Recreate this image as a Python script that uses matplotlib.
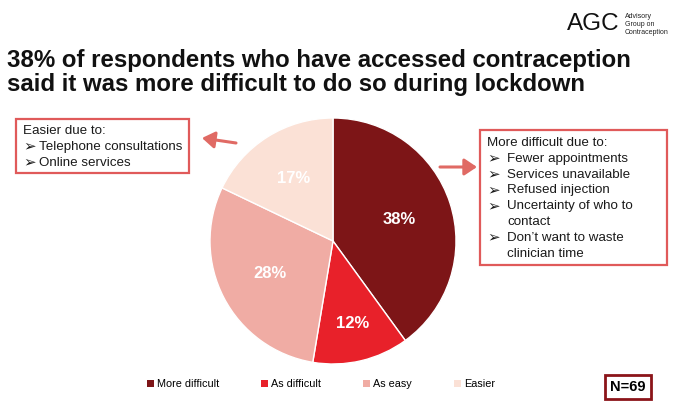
import matplotlib
matplotlib.use("Agg")
import matplotlib.pyplot as plt
from matplotlib.patches import Rectangle, FancyArrowPatch

plt.rcParams['font.family'] = ['Liberation Sans', 'DejaVu Sans']

# data
categories = ["More difficult", "As difficult", "As easy", "Easier"]
shares = [38, 12, 28, 17]
colors = ["#7d1517", "#e8212a", "#f0aca4", "#fbe1d6"]

easier_reasons = ["Telephone consultations", "Online services"]
harder_reasons = ["Fewer appointments", "Services unavailable", "Refused injection",
                  "Uncertainty of who to\ncontact", "Don\u2019t want to waste\nclinician time"]
n_resp = 69

W, H = 680, 401
fig = plt.figure(figsize=(W / 100, H / 100), dpi=100)
fig.patch.set_facecolor("white")


def fx(x):
    return x / W


def fy(y):
    return 1 - y / H


# title + logo
fig.text(fx(7), fy(61), "38% of respondents who have accessed contraception",
         fontsize=17.3, fontweight="bold", color="#111111", va="center", ha="left")
fig.text(fx(7), fy(85), "said it was more difficult to do so during lockdown",
         fontsize=17.3, fontweight="bold", color="#111111", va="center", ha="left")
fig.text(fx(567), fy(24), "AGC", fontsize=17.5, color="#111111", va="center", ha="left")
fig.text(fx(625), fy(24.5), "Advisory\nGroup on\nContraception", fontsize=5,
         color="#222222", va="center", ha="left", linespacing=1.25)

# pie
cx, cy, r = 333, 241, 123
ax = fig.add_axes([fx(cx - r), fy(cy + r), 2 * r / W, 2 * r / H])
wedges, texts, autotexts = ax.pie(
    shares, colors=colors, startangle=90, counterclock=False,
    autopct=lambda p: "", pctdistance=0.6,
    wedgeprops=dict(edgecolor="white", linewidth=1))
for t, v, d in zip(autotexts, shares, [0.57, 0.69, 0.58, 0.6]):
    x, y = t.get_position()
    k = d / 0.6
    t.set_position((x * k, y * k))
    t.set_text(f"{v}%")
    t.set_color("white")
    t.set_fontsize(12)
    t.set_fontweight("bold")
ax.set_xlim(-1, 1)
ax.set_ylim(-1, 1)
ax.set_aspect("equal")
ax.axis("off")


def bullet_block(x_bullet, x_text, y0, header, items, step=15.8, size=9.6):
    fig.text(fx(x_bullet), fy(y0), header, fontsize=size, va="center", ha="left",
             color="#1a1a1a")
    yy = y0 + step
    for s in items:
        fig.text(fx(x_bullet), fy(yy), "\u27a2", fontsize=size + 1.2, va="center",
                 ha="left", color="#1a1a1a")
        for line in s.split("\n"):
            fig.text(fx(x_text), fy(yy), line, fontsize=size, va="center", ha="left",
                     color="#1a1a1a")
            yy += step


# left callout
fig.patches.append(Rectangle((fx(16), fy(173)), fx(189) - fx(16), fy(119) - fy(173),
                             transform=fig.transFigure, fill=False,
                             edgecolor="#e05a5a", linewidth=1.6))
bullet_block(23, 39, 131, "Easier due to:", easier_reasons)

# right callout
fig.patches.append(Rectangle((fx(480), fy(265)), fx(667) - fx(480), fy(130) - fy(265),
                             transform=fig.transFigure, fill=False,
                             edgecolor="#e05a5a", linewidth=1.6))
bullet_block(487, 507, 143, "More difficult due to:", harder_reasons)

# arrows
for (x0, y0, x1, y1) in [(236, 143, 202, 138), (440, 167, 477, 167)]:
    fig.patches.append(FancyArrowPatch((fx(x0), fy(y0)), (fx(x1), fy(y1)),
                                       transform=fig.transFigure,
                                       arrowstyle="-|>,head_length=0.75,head_width=0.5",
                                       color="#e06a64", linewidth=2.2,
                                       mutation_scale=10, shrinkA=0, shrinkB=0))

# legend
leg = fig.legend(wedges, categories, loc="center left",
                 bbox_to_anchor=(fx(147), fy(384)), ncol=4, frameon=False,
                 fontsize=7.8, handlelength=0.65, handleheight=0.65,
                 handletextpad=0.25, columnspacing=3.9, borderpad=0, borderaxespad=0)
for h in leg.legend_handles:
    h.set_edgecolor("none")

# sample size box
fig.patches.append(Rectangle((fx(605), fy(399)), fx(651) - fx(605), fy(375) - fy(399),
                             transform=fig.transFigure, fill=False,
                             edgecolor="#8b1419", linewidth=2))
fig.text(fx(628), fy(387), f"N={n_resp}", fontsize=10.5, fontweight="bold",
         va="center", ha="center")

fig.savefig("out.png", dpi=100)
